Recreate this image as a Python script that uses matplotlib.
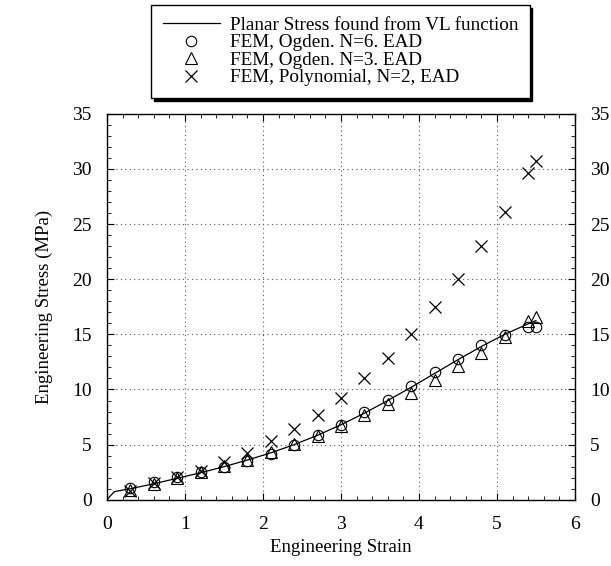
import matplotlib
matplotlib.use("Agg")
import matplotlib.pyplot as plt  # type: ignore
from matplotlib.ticker import MultipleLocator

plt.rcParams["font.family"] = ["Liberation Serif", "DejaVu Serif"]

# planar stress curve from the VL function
curve_strain = [0.0, 0.05, 0.1, 0.3, 0.6, 0.9, 1.2, 1.5, 1.8, 2.1, 2.4, 2.7,
                3.0, 3.3, 3.6, 3.9, 4.2, 4.5, 4.8, 5.1, 5.4, 5.5]
curve_stress = [0.0, 0.4, 0.75, 1.0, 1.45, 1.95, 2.45, 3.0, 3.6, 4.25, 5.0, 5.85,
                6.8, 7.85, 9.0, 10.2, 11.45, 12.7, 13.9, 15.0, 15.95, 16.25]

# FEM sample strains
fem_strain = [0.3, 0.6, 0.9, 1.2, 1.5, 1.8, 2.1, 2.4, 2.7, 3.0, 3.3, 3.6,
              3.9, 4.2, 4.5, 4.8, 5.1, 5.4, 5.5]
ogden6_stress = [1.1, 1.6, 2.05, 2.55, 3.0, 3.55, 4.15, 5.0, 5.85, 6.8, 7.95, 9.05,
                 10.3, 11.6, 12.8, 14.0, 14.95, 15.7, 15.7]
ogden3_stress = [0.85, 1.45, 2.0, 2.5, 3.05, 3.65, 4.3, 5.1, 5.8, 6.65, 7.65, 8.7,
                 9.7, 10.9, 12.1, 13.3, 14.75, 16.2, 16.6]
poly2_stress = [0.8, 1.5, 2.05, 2.6, 3.4, 4.2, 5.3, 6.4, 7.7, 9.2, 11.0, 12.9,
                15.05, 17.5, 20.0, 23.0, 26.1, 29.6, 30.7]

labels = ["Planar Stress found from VL function",
          "FEM, Ogden. N=6. EAD",
          "FEM, Ogden. N=3. EAD",
          "FEM, Polynomial, N=2, EAD"]


def main() -> None:
    fig = plt.figure(figsize=(6.11, 5.66), dpi=100)
    ax = fig.add_axes([0.175, 0.117, 0.766, 0.682])

    ax.plot(curve_strain, curve_stress, color="black", lw=0.9, label=labels[0])
    ax.plot(fem_strain, ogden6_stress, ls="none", marker="o", ms=7.5, mfc="none",
            mec="black", mew=0.8, label=labels[1])
    ax.plot(fem_strain, ogden3_stress, ls="none", marker="^", ms=8, mfc="none",
            mec="black", mew=0.8, label=labels[2])
    ax.plot(fem_strain, poly2_stress, ls="none", marker="x", ms=8, mfc="none",
            mec="black", mew=0.9, label=labels[3])

    ax.set_xlim(0, 6)
    ax.set_ylim(0, 35)
    ax.xaxis.set_major_locator(MultipleLocator(1))
    ax.xaxis.set_minor_locator(MultipleLocator(0.2))
    ax.yaxis.set_major_locator(MultipleLocator(5))
    ax.yaxis.set_minor_locator(MultipleLocator(1))
    ax.grid(True, which="major", ls=(0, (1, 3)), color="#555555", lw=0.8)

    ax.tick_params(which="both", direction="in", top=True, right=True,
                   labelright=True, labelsize=14)
    ax.tick_params(which="major", length=5, width=0.8)
    ax.tick_params(which="minor", length=3, width=0.6)
    ax.tick_params(axis="x", pad=12)
    ax.tick_params(axis="y", pad=11)
    for sp in ax.spines.values():
        sp.set_linewidth(1.0)

    ax.set_xlabel("Engineering Strain", fontsize=13.5, labelpad=4)
    ax.set_ylabel("Engineering Stress (MPa)", fontsize=13.5, labelpad=14)

    handles, labs = ax.get_legend_handles_labels()
    fig.legend(handles, labs, loc="upper center", bbox_to_anchor=(0.557, 0.991),
               bbox_transform=fig.transFigure, fontsize=13.8, frameon=True,
               fancybox=False, edgecolor="black", framealpha=1,
               shadow={"color": "black", "alpha": 1}, labelspacing=0.0,
               handlelength=3.0, handletextpad=0.5, borderpad=0.6,
               borderaxespad=0)

    fig.savefig("out.png", dpi=100)


if __name__ == "__main__":
    main()
